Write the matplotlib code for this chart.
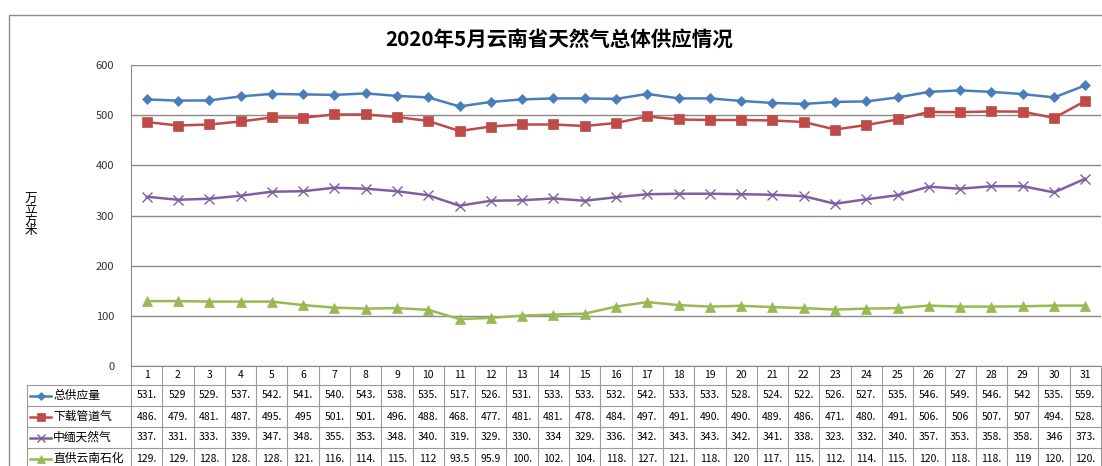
import matplotlib
matplotlib.use("Agg")
import matplotlib.pyplot as plt
from matplotlib.lines import Line2D
from matplotlib.patches import Rectangle

plt.rcParams['font.family'] = ['Noto Sans CJK SC', 'DejaVu Sans']

days = list(range(1, 32))
series_names = ["总供应量", "下载管道气", "中缅天然气", "直供云南石化"]
total_supply = [531.4, 529, 529.4, 537.4, 542.4, 541.4, 540.4, 543.4, 538.4, 535.4,
                517.4, 526.4, 531.4, 533.4, 533.4, 532.4, 542.4, 533.4, 533.4, 528.4,
                524.4, 522.4, 526.4, 527.4, 535.4, 546.4, 549.4, 546.4, 542, 535.4, 559.4]
pipeline_gas = [486.4, 479.4, 481.4, 487.4, 495.4, 495, 501.4, 501.4, 496.4, 488.4,
                468.4, 477.4, 481.4, 481.4, 478.4, 484.4, 497.4, 491.4, 490.4, 490.4,
                489.4, 486.4, 471.4, 480.4, 491.4, 506.4, 506, 507.4, 507, 494.4, 528.4]
china_myanmar = [337.4, 331.4, 333.4, 339.4, 347.4, 348.4, 355.4, 353.4, 348.4, 340.4,
                 319.4, 329.4, 330.4, 334, 329.4, 336.4, 342.4, 343.4, 343.4, 342.4,
                 341.4, 338.4, 323.4, 332.4, 340.4, 357.4, 353.4, 358.4, 358.4, 346, 373.4]
yunnan_petro = [129.4, 129.4, 128.4, 128.4, 128.4, 121.4, 116.4, 114.4, 115.4, 112,
                93.5, 95.9, 100.4, 102.4, 104.4, 118.4, 127.4, 121.4, 118.4, 120,
                117.4, 115.4, 112.4, 114.4, 115.4, 120.4, 118.4, 118.4, 119, 120.4, 120.4]
y_ticks = [0, 100, 200, 300, 400, 500, 600]

series = [total_supply, pipeline_gas, china_myanmar, yunnan_petro]
colors = ["#4A7EBB", "#BE4B48", "#7D60A0", "#98B954"]
markers = ["D", "s", "x", "^"]
msizes = [5, 7, 7, 6.5]


def fmt(v):
    if float(v).is_integer():
        return str(int(v))
    s = repr(float(v))
    return s[:4]


W, H = 1102, 466
fig = plt.figure(figsize=(W / 100, H / 100), dpi=100)
fig.patch.set_facecolor("white")

# outer chart border
fig.add_artist(Rectangle((9 / W, -0.1), 1.2, 1 - 15 / H + 0.1, transform=fig.transFigure,
                         fill=False, edgecolor="#8c8c8c", linewidth=1.0))

ax = fig.add_axes([131 / W, 1 - 366 / H, 970 / W, 301 / H])
ax.set_xlim(0.5, 31.5)
ax.set_ylim(0, 600)
ax.set_yticks(y_ticks)
ax.set_yticklabels([str(t) for t in y_ticks], fontsize=8, color="#333333")
ax.tick_params(axis="y", length=0, pad=12)
ax.set_xticks([])
ax.grid(axis="y", color="#8a8a8a", linewidth=1.0)
ax.set_axisbelow(True)
for side in ["top", "right"]:
    ax.spines[side].set_visible(False)
ax.spines["left"].set_color("#8a8a8a")
ax.spines["bottom"].set_color("#8a8a8a")

for vals, c, m, ms in zip(series, colors, markers, msizes):
    ax.plot(days, vals, color=c, linewidth=1.8, marker=m, markersize=ms,
            markeredgewidth=1.0 if m == "x" else 0.5, markeredgecolor=c, markerfacecolor=c)

# title
fig.text(559 / W, 1 - 39 / H, "2020年5月云南省天然气总体供应情况", ha="center", va="center",
         fontsize=14.8, fontweight="bold", color="#000000")

# y label (stacked vertical)
fig.text(31 / W, 1 - 215 / H, "万\n立\n方\n米", ha="center", va="center", fontsize=9,
         linespacing=0.75, color="#000000")

# data table
tr = ax.get_xaxis_transform()
lc = "#9a9a9a"
ax_px = lambda py: (366 - py) / 301.0
row_bounds = [366, 385, 406, 427, 448, 469]
label_left = (27 - 131) / 970.0

# header row numbers
for d in days:
    ax.text(d, ax_px((row_bounds[0] + row_bounds[1]) / 2), str(d), transform=tr,
            ha="center", va="center", fontsize=7.5, color="#000000", clip_on=False)
# vertical lines
for k in range(0, 32):
    ax.plot([k + 0.5, k + 0.5], [ax_px(366), ax_px(469)], transform=tr, color=lc,
            linewidth=0.8, clip_on=False)
# horizontal lines
for rb in row_bounds[1:]:
    ax.plot([label_left, 1.0], [ax_px(rb), ax_px(rb)], transform=ax.transAxes, color=lc,
            linewidth=0.8, clip_on=False)
ax.plot([label_left, label_left], [ax_px(385), ax_px(469)], transform=ax.transAxes,
        color=lc, linewidth=0.8, clip_on=False)

for i, (name, vals, c, m, ms) in enumerate(zip(series_names, series, colors, markers, msizes)):
    yc = ax_px((row_bounds[i + 1] + row_bounds[i + 2]) / 2)
    for d, v in zip(days, vals):
        ax.text(d, yc, fmt(v), transform=tr, ha="center", va="center", fontsize=7.5,
                color="#000000", clip_on=False)
    x0 = (30 - 131) / 970.0
    x1 = (51 - 131) / 970.0
    ax.add_line(Line2D([x0, x1], [yc, yc], transform=ax.transAxes, color=c, linewidth=1.8,
                       clip_on=False))
    ax.add_line(Line2D([(x0 + x1) / 2], [yc], transform=ax.transAxes, color=c, marker=m,
                       markersize=ms * 0.9, markerfacecolor=c, markeredgecolor=c,
                       markeredgewidth=1.0 if m == "x" else 0.5, linestyle="none",
                       clip_on=False))
    ax.text((53 - 131) / 970.0, yc, name, transform=ax.transAxes, ha="left", va="center",
            fontsize=8.5, color="#000000", clip_on=False)

fig.savefig("out.png", dpi=100)
